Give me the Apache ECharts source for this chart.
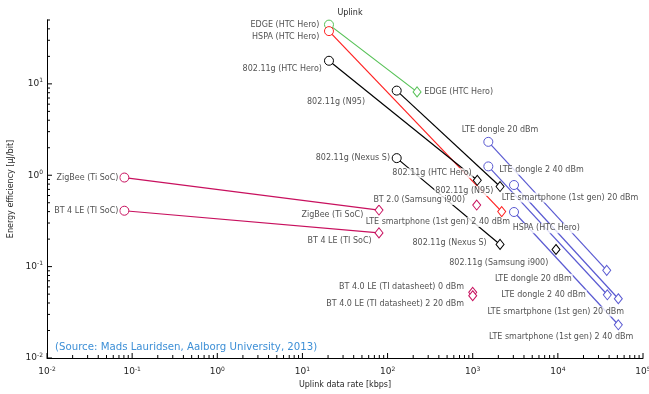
<!DOCTYPE html>
<html>
<head>
<meta charset="utf-8">
<script src="https://cdn.jsdelivr.net/npm/echarts@6/dist/echarts.min.js"></script>
<style>html,body{margin:0;padding:0;background:#fff;}#c{width:649px;height:394px;}</style>
</head>
<body>
<div id="c"></div>
<script>
// ---- data ----
const seriesNames = [
  'EDGE (HTC Hero)', 'HSPA (HTC Hero)', '802.11g (HTC Hero)', '802.11g (N95)', '802.11g (Nexus S)',
  '802.11g (Samsung i900)', 'BT 2.0 (Samsung i900)', 'ZigBee (Ti SoC)', 'BT 4 LE (TI SoC)',
  'BT 4.0 LE (TI datasheet) 0 dBm', 'BT 4.0 LE (TI datasheet) 2 20 dBm',
  'LTE dongle 20 dBm', 'LTE dongle 2 40 dBm', 'LTE smartphone (1st gen) 20 dBm', 'LTE smartphone (1st gen) 2 40 dBm'
];
const rateStart = [20.5, 20.5, 20.5, 128, 128, null, null, 0.081, 0.081, null, null, 1525, 1525, 3055, 3055];
const effStart  = [44.5, 37.8, 17.9, 8.44, 1.54, null, null, 0.944, 0.409, null, null, 2.32, 1.25, 0.782, 0.396];
const rateEnd   = [222, 2190, 1132, 2094, 2094, 9510, 1114, 79.3, 79.3, 1000, 1000, 37500, 38100, 51300, 51300];
const effEnd    = [8.17, 0.40, 0.881, 0.752, 0.175, 0.154, 0.472, 0.416, 0.234, 0.0523, 0.048, 0.091, 0.0492, 0.0445, 0.0231];
const xTickExponents = [-2, -1, 0, 1, 2, 3, 4, 5];
const yTickExponents = [-2, -1, 0, 1];
const titleText = 'Uplink';
const xAxisTitle = 'Uplink data rate [kbps]';
const yAxisTitle = 'Energy efficiency [\u00b5J/bit]';
const sourceText = '(Source: Mads Lauridsen, Aalborg University, 2013)';

// ---- styles / layout ----
const GREEN = '#55c155', RED = '#ff2020', BLACK = '#000000', MAG = '#c8105e', BLUE = '#5a5ad2';
const seriesColors = [GREEN, RED, BLACK, BLACK, BLACK, BLACK, MAG, MAG, MAG, MAG, MAG, BLUE, BLUE, BLUE, BLUE];
// [align, dx, dy] of the text edge relative to its marker
const startLabelLayout = [
  ['right', -9.7, 0], ['right', -9.7, 6], ['right', -7, 8], ['right', -31.7, 11], ['right', -6.7, 0],
  null, null, ['right', -6, 0], ['right', -6, 0], null, null,
  ['center', 11.7, -12], ['left', 11, 3.4], ['left', -12.3, 12.6], ['right', -4, 10]
];
const endLabelLayout = [
  ['left', 7.3, 0], ['left', 11, 16.7], ['right', -5.6, -7], ['right', -6.7, 4.4], ['right', -13.3, -1],
  ['right', -7.7, 13.3], ['right', -11.7, -5], ['right', -15.7, 5], ['right', -7.3, 8.4],
  ['right', -8.7, -5.7], ['right', -8.7, 7.7],
  ['right', -35, 8.3], ['right', -21.6, 0], ['right', 5.7, 12.7], ['right', 15, 11.7]
];
const FONT = 'DejaVu Sans';
const TXT = '#262626';
const X_MIN = 0.01, X_MAX = 1e5, Y_MIN = 0.01, Y_MAX = 50;

const chart = echarts.init(document.getElementById('c'), null, {renderer: 'canvas'});

const series = [];
const labelData = [];
seriesNames.forEach((name, i) => {
  const c = seriesColors[i];
  const mstyle = {color: '#ffffff', borderColor: c, borderWidth: 1};
  const data = [];
  if (rateStart[i] != null) {
    data.push({value: [rateStart[i], effStart[i]], symbol: 'circle', symbolSize: 9, itemStyle: mstyle});
    labelData.push({value: [rateStart[i], effStart[i]], name: name, layout: startLabelLayout[i]});
  }
  data.push({value: [rateEnd[i], effEnd[i]], symbol: 'diamond', symbolSize: [8, 10], itemStyle: mstyle});
  labelData.push({value: [rateEnd[i], effEnd[i]], name: name, layout: endLabelLayout[i]});
  series.push({
    type: 'line', name: name, data: data, z: 2,
    showAllSymbol: true,
    lineStyle: {color: c, width: 1.2},
    itemStyle: mstyle,
    emphasis: {disabled: true}, silent: true, animation: false, clip: false
  });
});

series.push({
  type: 'scatter', z: 5, silent: true, animation: false,
  symbolSize: 0.1, itemStyle: {color: 'rgba(0,0,0,0)'},
  data: labelData.map(d => {
    const [align, dx, dy] = d.layout;
    const ox = align === 'right' ? dx + 1 : (align === 'left' ? dx - 1 : dx);
    return {
      value: d.value, name: d.name,
      label: {
        show: true, position: 'inside', align: align, verticalAlign: 'middle',
        offset: [ox, dy], formatter: d.name,
        fontFamily: FONT, fontSize: 8, color: TXT,
        backgroundColor: '#ffffff', padding: [1, 1, 0, 1], lineHeight: 9
      }
    };
  })
});

// axis ticks (inside, major + minor), drawn through the axes' own scales
const tickData = [];
xTickExponents.forEach(e => {
  tickData.push([Math.pow(10, e), Y_MIN, 5, 0]);
  if (e < 5) for (let m = 2; m <= 9; m++) tickData.push([m * Math.pow(10, e), Y_MIN, 3, 0]);
});
yTickExponents.forEach(e => {
  tickData.push([X_MIN, Math.pow(10, e), 5, 1]);
  for (let m = 2; m <= 9; m++) {
    const v = m * Math.pow(10, e);
    if (v <= Y_MAX + 1e-9) tickData.push([X_MIN, v, 3, 1]);
  }
});
series.push({
  type: 'custom', z: 3, silent: true, animation: false, clip: false,
  data: tickData,
  renderItem: (params, api) => {
    const p = api.coord([api.value(0), api.value(1)]);
    const len = api.value(2);
    const kind = api.value(3);
    const shape = kind === 0
      ? {x1: p[0], y1: p[1], x2: p[0], y2: p[1] - len}
      : {x1: p[0], y1: p[1], x2: p[0] + len, y2: p[1]};
    return {type: 'line', shape: shape, style: {stroke: '#000', lineWidth: 1}};
  }
});

function expLabel(v) {
  const l = Math.log10(v);
  const e = Math.round(l);
  if (Math.abs(l - e) > 1e-6) return '';
  return '{b|10}{s|' + e + '}';
}
const richTick = {
  b: {fontFamily: FONT, fontSize: 9, color: TXT, lineHeight: 12},
  s: {fontFamily: FONT, fontSize: 6, color: TXT, verticalAlign: 'top', lineHeight: 7}
};

chart.setOption({
  animation: false,
  backgroundColor: '#ffffff',
  title: {
    text: titleText, left: 345, textAlign: 'center', top: 4,
    textStyle: {fontFamily: FONT, fontSize: 8, fontWeight: 'normal', color: TXT}
  },
  grid: {left: 47, right: 6, top: 20, bottom: 36, containLabel: false, outerBoundsMode: 'none'},
  xAxis: {
    type: 'log', logBase: 10, min: X_MIN, max: X_MAX, splitNumber: 7,
    name: xAxisTitle, nameLocation: 'middle', nameGap: 23,
    nameTextStyle: {fontFamily: FONT, fontSize: 8, color: TXT},
    axisLine: {show: true, lineStyle: {color: '#000', width: 1}},
    axisTick: {show: false}, splitLine: {show: false}, minorTick: {show: false},
    axisLabel: {formatter: expLabel, rich: richTick, margin: 8, showMaxLabel: true, showMinLabel: true, hideOverlap: false}
  },
  yAxis: {
    type: 'log', logBase: 10, min: Y_MIN, max: Y_MAX, splitNumber: 4,
    name: yAxisTitle, nameLocation: 'middle', nameGap: 31,
    nameTextStyle: {fontFamily: FONT, fontSize: 8, color: TXT},
    axisLine: {show: true, lineStyle: {color: '#000', width: 1}},
    axisTick: {show: false}, splitLine: {show: false}, minorTick: {show: false},
    axisLabel: {formatter: expLabel, rich: richTick, margin: 4, showMaxLabel: true, showMinLabel: true, hideOverlap: false}
  },
  graphic: [{
    type: 'text', left: 55, top: 342, silent: true,
    style: {text: sourceText, fontFamily: FONT, fontSize: 10.2, fill: '#3d8fd6'}
  }],
  series: series
});
</script>
</body>
</html>
